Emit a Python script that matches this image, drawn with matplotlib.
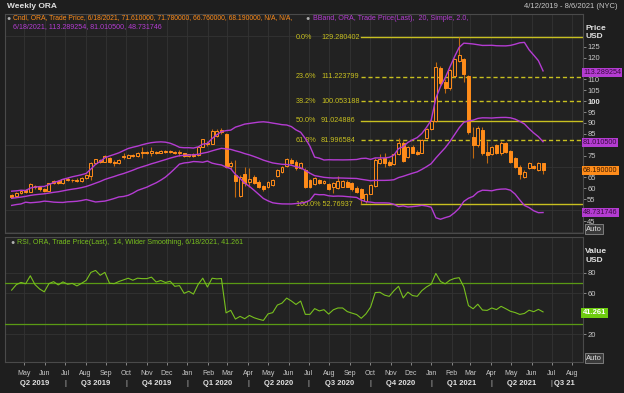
import numpy as np
import pandas as pd
import matplotlib
matplotlib.use('Agg')
import matplotlib.pyplot as plt
import matplotlib.dates as mdates

W, H = 624, 393
BG = '#1e1e1e'
PANEL = '#222222'
GRID = '#333333'
ORANGE = '#ff8c1a'
WICK = '#c06a10'
MAGENTA = '#b43cd2'
FIB = '#c8c020'
GREEN = '#78c01e'
TXT = '#c8c8c8'

# ---- weekly candles, 4/12/2019 .. 6/18/2021 ----
opens = [57.0, 56.4, 57.9, 59.2, 58.5, 61.2, 60.5, 59.6, 59.0, 62.5,
         63.4, 62.6, 64.5, 63.6, 64.0, 63.4, 64.6, 65.5, 71.5, 73.0,
         72.3, 73.8, 72.3, 71.6, 74.9, 74.1, 75.5, 74.8, 76.9, 76.6,
         76.3, 76.8, 76.3, 77.2, 76.6, 76.8, 76.3, 76.1, 75.0, 75.6,
         75.3, 79.1, 81.0, 80.5, 84.0, 86.0, 85.0, 70.2, 66.1, 56.5,
         66.4, 62.8, 65.4, 63.1, 61.1, 60.8, 61.6, 65.7, 67.7, 70.3,
         73.0, 72.3, 69.4, 68.4, 63.9, 62.0, 63.9, 62.3, 62.0, 60.8,
         60.0, 60.8, 63.1, 62.3, 60.3, 59.6, 54.4, 57.5, 61.2, 71.5,
         73.8, 72.1, 71.2, 75.8, 80.7, 74.3, 79.1, 76.9, 76.4, 83.0,
         87.1, 91.1, 115.0, 109.0, 105.9, 111.6, 118.6, 119.2, 111.7, 83.7,
         79.9, 86.8, 76.9, 75.8, 79.9, 76.1, 80.7, 77.3, 73.8, 70.0,
         65.4, 69.2, 70.3, 68.4, 71.61]
highs = [57.4, 58.2, 59.0, 59.8, 62.6, 61.6, 61.0, 60.0, 62.6, 63.8,
         63.9, 64.5, 65.0, 64.5, 64.6, 65.0, 66.4, 72.0, 73.6, 73.6,
         75.2, 74.2, 72.8, 73.6, 76.2, 75.9, 75.9, 76.8, 78.9, 77.0,
         78.9, 77.2, 77.4, 77.6, 77.6, 77.2, 77.8, 76.4, 75.9, 76.0,
         79.2, 82.8, 81.6, 87.2, 87.0, 87.5, 85.6, 72.4, 73.0, 66.0,
         70.0, 69.5, 66.0, 63.6, 61.6, 63.5, 64.2, 68.8, 70.2, 73.8,
         73.8, 73.0, 72.0, 69.5, 64.5, 65.0, 64.3, 63.8, 62.5, 62.8,
         65.5, 64.0, 63.6, 62.8, 61.0, 60.0, 58.0, 61.9, 74.0, 75.8,
         76.0, 72.8, 76.2, 83.0, 81.5, 79.6, 80.0, 77.4, 82.7, 87.6,
         91.6, 118.1, 116.0, 110.0, 114.8, 119.6, 129.28, 120.0, 112.2, 88.0,
         88.5, 88.0, 81.5, 79.6, 80.5, 81.5, 81.2, 77.8, 74.3, 70.5,
         68.2, 72.0, 70.8, 72.3, 71.78]
lows = [55.6, 56.0, 57.5, 57.8, 58.2, 59.5, 59.0, 58.2, 58.8, 62.0,
        62.0, 62.2, 63.2, 62.8, 63.0, 63.0, 64.2, 63.9, 71.0, 71.6,
        71.9, 71.4, 70.2, 71.2, 73.6, 73.8, 74.3, 74.4, 74.0, 75.6,
        75.0, 75.8, 76.0, 76.2, 76.2, 75.6, 74.8, 74.6, 74.5, 74.6,
        75.0, 78.8, 79.5, 80.2, 83.6, 85.0, 69.5, 69.0, 56.0, 55.9,
        61.0, 60.5, 61.8, 60.2, 59.0, 60.3, 61.2, 65.3, 67.2, 70.0,
        71.0, 68.6, 68.8, 60.2, 60.3, 61.5, 62.2, 61.8, 59.2, 58.0,
        59.6, 60.4, 60.4, 59.0, 58.0, 52.77, 53.2, 57.2, 60.8, 71.0,
        70.0, 70.2, 70.8, 75.4, 72.2, 73.8, 76.0, 75.3, 76.0, 82.6,
        86.7, 90.6, 107.5, 103.6, 105.0, 111.0, 118.0, 109.0, 85.0, 73.8,
        79.0, 75.5, 71.5, 75.2, 75.6, 75.5, 76.4, 71.8, 69.5, 64.2,
        64.8, 68.7, 68.7, 67.9, 66.76]
closes = [56.2, 57.9, 58.7, 58.5, 62.0, 60.4, 59.5, 58.9, 62.3, 63.3,
          62.6, 64.1, 63.6, 64.0, 63.5, 64.6, 66.0, 71.4, 73.3, 72.2,
          74.8, 71.9, 71.8, 73.2, 74.3, 75.5, 75.0, 76.4, 76.3, 76.3,
          77.2, 76.2, 77.0, 76.6, 77.2, 76.2, 76.5, 74.9, 75.6, 75.0,
          78.8, 82.5, 80.2, 86.5, 86.3, 86.6, 70.0, 71.5, 63.4, 65.0,
          62.6, 64.5, 62.3, 60.8, 59.6, 63.1, 63.8, 68.4, 69.7, 73.3,
          71.5, 69.2, 71.5, 60.8, 60.8, 64.6, 62.6, 63.4, 59.6, 62.3,
          63.5, 63.5, 60.8, 59.6, 58.5, 55.4, 57.6, 61.4, 73.0, 73.3,
          71.5, 70.7, 75.8, 80.7, 72.7, 79.1, 76.4, 75.8, 82.2, 87.1,
          91.1, 115.5, 108.2, 105.9, 114.3, 119.2, 121.2, 112.3, 86.0, 79.9,
          87.6, 76.1, 75.3, 79.1, 76.1, 81.0, 76.9, 72.3, 70.0, 66.6,
          67.7, 71.5, 69.2, 71.8, 68.19]
# closes before the visible window (estimated from where the bands begin)
lead_closes = [52.5, 53.0, 51.8, 53.5, 54.2, 55.0, 54.6, 55.8, 56.5, 57.2,
               56.0, 55.3, 56.8, 57.5, 56.2, 55.6, 56.9, 57.4, 56.6]

fib_pct = ['0.0%', '23.6%', '38.2%', '50.0%', '61.8%', '100.0%']
fib_val = [129.280402, 111.223799, 100.053188, 91.024886, 81.996584, 52.76937]
fib_txt = ['129.280402', '111.223799', '100.053188', '91.024886', '81.996584', '52.76937']
fib_dash = [False, True, True, False, True, False]

# last values shown in the right-hand boxes
last_labels = ['113.289254', '81.010500', '68.190000', '48.731746']
last_rsi = '41.261'

price_ticks = [45, 55, 60, 65, 75, 85, 90, 95, 100, 105, 110, 120, 125]
rsi_ticks = [20, 60, 80]
quarters = [('Q2 2019', '2019-04-02', '2019-07-01'), ('Q3 2019', '2019-07-01', '2019-10-01'),
            ('Q4 2019', '2019-10-01', '2020-01-01'), ('Q1 2020', '2020-01-01', '2020-04-01'),
            ('Q2 2020', '2020-04-01', '2020-07-01'), ('Q3 2020', '2020-07-01', '2020-10-01'),
            ('Q4 2020', '2020-10-01', '2021-01-01'), ('Q1 2021', '2021-01-01', '2021-04-01'),
            ('Q2 2021', '2021-04-01', '2021-07-01')]

dates = pd.date_range('2019-04-12', periods=len(closes), freq='7D')
all_close = pd.Series(lead_closes + closes)
mid = all_close.rolling(20).mean()
sd = all_close.rolling(20).std(ddof=0)
n_lead = len(lead_closes)
bb_mid = mid.values[n_lead:]
bb_up = (mid + 2 * sd).values[n_lead:]
bb_lo = (mid - 2 * sd).values[n_lead:]

delta = all_close.diff()
gain = delta.clip(lower=0).ewm(alpha=1 / 14, adjust=False).mean()
loss = (-delta.clip(upper=0)).ewm(alpha=1 / 14, adjust=False).mean()
rsi = (100 - 100 / (1 + gain / loss)).values[n_lead:]

X0, X1 = pd.Timestamp('2019-04-02'), pd.Timestamp('2021-08-17')

plt.rcParams['font.family'] = ['Liberation Sans', 'DejaVu Sans']
fig = plt.figure(figsize=(W / 100, H / 100), dpi=100, facecolor=BG)


def ftxt(px, py, s, **kw):
    return fig.text(px / W, 1 - py / H, s, **kw)


ax1 = fig.add_axes([5 / W, 1 - 233 / H, 578 / W, 219 / H])
ax2 = fig.add_axes([5 / W, 1 - 362 / H, 578 / W, 125 / H])

for ax in (ax1, ax2):
    ax.set_facecolor(PANEL)
    ax.set_xlim(X0, X1)
    ax.xaxis.set_major_locator(mdates.MonthLocator())
    ax.grid(True, color=GRID, lw=0.6)
    ax.set_axisbelow(True)
    for s in ax.spines.values():
        s.set_color('#4a4a4a')
        s.set_linewidth(0.8)
    ax.yaxis.tick_right()
    ax.tick_params(axis='y', colors='#9a9a9a', labelcolor=TXT, labelsize=5.5,
                   length=2, pad=1, width=0.6)

# ---- candles ----
d_num = mdates.date2num(dates)
for x, o, h, l, c in zip(d_num, opens, highs, lows, closes):
    ax1.vlines(x, l, h, color=WICK, lw=0.8, zorder=3)
    up = c >= o
    ax1.bar(x, abs(c - o) if abs(c - o) > 0.2 else 0.2, bottom=min(o, c), width=4.4,
            facecolor=PANEL if up else ORANGE, edgecolor=ORANGE, lw=0.7, zorder=4)

ax1.plot(dates, bb_up, color=MAGENTA, lw=1.0, zorder=5)
ax1.plot(dates, bb_mid, color=MAGENTA, lw=1.0, zorder=5)
ax1.plot(dates, bb_lo, color=MAGENTA, lw=1.0, zorder=5)

# ---- fibonacci retracement ----
fib_start = mdates.date2num(dates[75])
for pct, val, vt, dash in zip(fib_pct, fib_val, fib_txt, fib_dash):
    ax1.plot([fib_start, mdates.date2num(X1)], [val, val], color=FIB, lw=1.0,
             ls=(0, (3, 2)) if dash else '-', zorder=2)
    if pct == '100.0%':
        ax1.annotate(pct + ' ' + vt, xy=(fib_start, val), xytext=(-47, 0),
                     textcoords='offset points', color=FIB, fontsize=5.2, va='center', ha='left')
    else:
        ax1.annotate(pct, xy=(fib_start, val), xytext=(-47, 0), textcoords='offset points',
                     color=FIB, fontsize=5.2, va='center', ha='left')
        ax1.annotate(vt, xy=(fib_start, val), xytext=(-29, 0),
                     textcoords='offset points', color=FIB, fontsize=5.2, va='center', ha='left')

ax1.set_ylim(39.5, 140)
ax1.set_yticks(price_ticks)
ax1.set_yticks(np.arange(40, 141, 10), minor=True)
ax1.yaxis.grid(False)
ax1.grid(True, which='minor', axis='y', color=GRID, lw=0.6)
ax1.tick_params(axis='y', which='minor', length=0)
ax1.set_yticklabels([str(t) for t in price_ticks])
for lab in ax1.get_yticklabels():
    if lab.get_text() == '100':
        lab.set_fontweight('bold')
        lab.set_color('#e0e0e0')
ax1.tick_params(axis='x', length=0, labelbottom=False)

for s, fc in zip(last_labels, [MAGENTA, MAGENTA, ORANGE, MAGENTA]):
    ax1.text(1.0, float(s), s, transform=ax1.get_yaxis_transform(), fontsize=5.2,
             color='#3a0a40' if fc == MAGENTA else '#3a1a00',
             va='center', ha='left', clip_on=False, zorder=10,
             bbox=dict(boxstyle='square,pad=0.15', fc=fc, ec='none'))

# ---- RSI ----
ax2.plot(dates, rsi, color=GREEN, lw=0.8, zorder=4)
ax2.axhline(70, color='#5a9a14', lw=0.9, zorder=3)
ax2.axhline(30, color='#5a9a14', lw=0.9, zorder=3)
ax2.set_ylim(-7, 115)
ax2.set_yticks(rsi_ticks)
ax2.set_yticks([0, 40, 100], minor=True)
ax2.tick_params(axis='y', which='minor', length=0)
ax2.text(1.0, float(last_rsi), last_rsi, transform=ax2.get_yaxis_transform(), fontsize=5.5,
         color='white', fontweight='bold', va='center', ha='left', clip_on=False, zorder=10,
         bbox=dict(boxstyle='square,pad=0.2', fc='#6ecc10', ec='none'))
ax2.xaxis.set_major_formatter(mdates.DateFormatter('%b'))
ax2.tick_params(axis='x', colors='#9a9a9a', labelcolor=TXT, labelsize=5, length=2,
                pad=3.5, width=0.6, direction='out')

# quarter labels under months
for name, a, b in quarters:
    xa, xb = mdates.date2num(pd.Timestamp(a)), mdates.date2num(pd.Timestamp(b))
    ax2.text((xa + xb) / 2, -0.17, name, transform=ax2.get_xaxis_transform(),
             fontsize=5.5, color='#e0e0e0', fontweight='bold', ha='center', va='center', clip_on=False)
    ax2.text(xb, -0.17, '|', transform=ax2.get_xaxis_transform(),
             fontsize=5.5, color=TXT, ha='center', va='center', clip_on=False)
ax2.text(mdates.date2num(pd.Timestamp('2021-07-04')), -0.17, 'Q3 21', transform=ax2.get_xaxis_transform(),
         fontsize=5.5, color='#e0e0e0', fontweight='bold', ha='left', va='center', clip_on=False)

# ---- headers & legends ----
ftxt(7, 7, 'Weekly ORA', fontsize=6, color='#e0e0e0', fontweight='bold', va='center')
ftxt(618, 7, '4/12/2019 - 8/6/2021 (NYC)', fontsize=5.5, color=TXT, ha='right', va='center')
ftxt(13, 18, 'Cndl, ORA, Trade Price, 6/18/2021, 71.610000, 71.780000, 66.760000, 68.190000, N/A, N/A,',
     fontsize=4.9, color=ORANGE, va='center')
ftxt(313, 18, 'BBand, ORA, Trade Price(Last),  20, Simple, 2.0,', fontsize=5.1, color=MAGENTA, va='center')
ftxt(13, 27, '6/18/2021, 113.289254, 81.010500, 48.731746', fontsize=5.1, color=MAGENTA, va='center')
ftxt(17, 243, 'RSI, ORA, Trade Price(Last),  14, Wilder Smoothing, 6/18/2021, 41.261',
     fontsize=5.1, color=GREEN, va='center')
for px, py in [(9, 18), (308, 18), (13, 243)]:
    ftxt(px, py, '\u25cf', fontsize=5, color='#b0b0b0', va='center', ha='center')

ftxt(585, 28, 'Price', fontsize=6, color='#e0e0e0', fontweight='bold', va='center')
ftxt(585, 37, 'USD', fontsize=6, color='#e0e0e0', fontweight='bold', va='center')
ftxt(585, 252, 'Value', fontsize=6, color='#e0e0e0', fontweight='bold', va='center')
ftxt(585, 261, 'USD', fontsize=6, color='#e0e0e0', fontweight='bold', va='center')
for py in (229, 358):
    ftxt(586, py, 'Auto', fontsize=5.5, color='#e0e0e0', va='center',
         bbox=dict(boxstyle='square,pad=0.15', fc='#3a3a3a', ec='#8a8a8a', lw=0.6))

fig.savefig('out.png', dpi=100, facecolor=BG)
